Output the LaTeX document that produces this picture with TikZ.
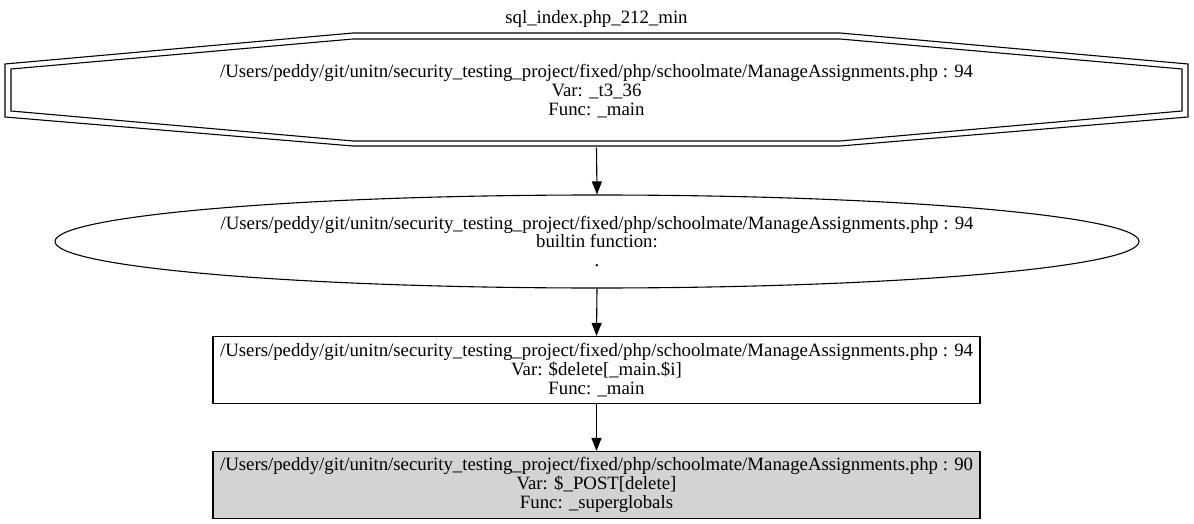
\documentclass[tikz,border=0pt]{standalone}
\usepackage{fontspec}
\setmainfont{Liberation Serif}
\usetikzlibrary{shapes.geometric,arrows.meta}
\begin{document}
\begin{tikzpicture}[x=1pt,y=-1pt,
  every node/.style={font=\fontsize{18.8}{18.6}\selectfont, align=center, inner sep=0pt},
  rectbox/.style={draw, line width=1.1pt, minimum width=767pt, minimum height=67pt},
  conn/.style={line width=1.1pt, -{Triangle[length=13pt,width=10pt]}},
  oline/.style={line width=1.1pt, line join=miter}]
\useasboundingbox (0,0) rectangle (1194,524);
% title
\node (title) at (596.5,19) {sql\_index.php\_212\_min};
% octagon (double periphery)
\draw[oline] (5,64) -- (353,33) -- (840,33) -- (1188,64) -- (1188,117) -- (840,146) -- (353,146) -- (5,117) -- cycle;
\draw[oline] (11,69) -- (353,39) -- (840,39) -- (1182,69) -- (1182,111) -- (840,141) -- (353,141) -- (11,111) -- cycle;
\node[minimum width=1183pt, minimum height=113pt] (n1) at (596.5,91)
  {/Users/peddy/git/unitn/security\_testing\_project/fixed/php/schoolmate/ManageAssignments.php : 94\\Var: \_t3\_36\\Func: \_main};
% ellipse
\node[ellipse, draw, line width=1.1pt, minimum width=1084pt, minimum height=93pt] (n2) at (597,241.5)
  {/Users/peddy/git/unitn/security\_testing\_project/fixed/php/schoolmate/ManageAssignments.php : 94\\builtin function:\\.};
% rectangles
\node[rectbox] (n3) at (596.5,370)
  {/Users/peddy/git/unitn/security\_testing\_project/fixed/php/schoolmate/ManageAssignments.php : 94\\Var: \$delete[\_main.\$i]\\Func: \_main};
\node[rectbox, fill={rgb,255:red,211;green,211;blue,211}] (n4) at (596.5,485)
  {/Users/peddy/git/unitn/security\_testing\_project/fixed/php/schoolmate/ManageAssignments.php : 90\\Var: \$\_POST[delete]\\Func: \_superglobals};
% connectors
\draw[conn] (n1.south) -- (n2.north);
\draw[conn] (n2.south) -- (n3.north);
\draw[conn] (n3.south) -- (n4.north);
\end{tikzpicture}
\end{document}
